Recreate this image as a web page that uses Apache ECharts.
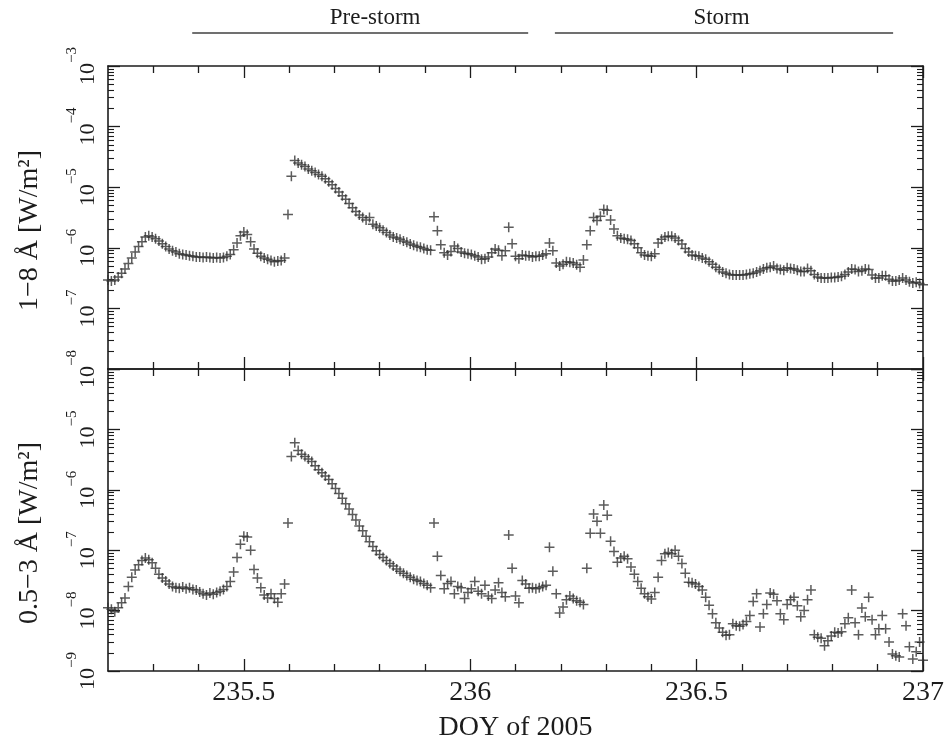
<!DOCTYPE html>
<html>
<head>
<meta charset="utf-8">
<script src="https://cdn.jsdelivr.net/npm/echarts@6.0.0/dist/echarts.min.js"></script>
<style>
html,body{margin:0;padding:0;background:#fff;}
#chart{width:948px;height:749px;}
</style>
</head>
<body>
<div id="chart"></div>
<script>
// ---------------- data ----------------
// Regular time grid (DOY of 2005)
const DOY_START = 235.2;
const DOY_STEP = 0.0075;

// GOES 1-8 Å flux [W/m^2]
const FLUX_1_8 = [
  2.95e-7, 2.82e-7, 2.95e-7, 3.31e-7, 3.80e-7, 4.47e-7, 5.50e-7, 6.76e-7, 8.51e-7, 1.05e-6,
  1.26e-6, 1.51e-6, 1.58e-6, 1.51e-6, 1.41e-6, 1.29e-6, 1.17e-6, 1.05e-6, 9.55e-7, 8.91e-7,
  8.51e-7, 7.94e-7, 7.76e-7, 7.59e-7, 7.41e-7, 7.24e-7, 7.08e-7, 7.08e-7, 6.92e-7, 7.08e-7,
  6.92e-7, 6.76e-7, 6.92e-7, 6.76e-7, 6.92e-7, 7.24e-7, 7.76e-7, 9.33e-7, 1.20e-6, 1.58e-6,
  1.82e-6, 1.66e-6, 1.26e-6, 9.55e-7, 8.13e-7, 7.24e-7, 6.76e-7, 6.46e-7, 6.17e-7, 5.89e-7,
  6.03e-7, 6.17e-7, 6.76e-7, 3.55e-6, 1.51e-5, 2.75e-5, 2.51e-5, 2.34e-5, 2.19e-5, 2.00e-5,
  1.86e-5, 1.74e-5, 1.62e-5, 1.51e-5, 1.38e-5, 1.23e-5, 1.10e-5, 9.55e-6, 8.32e-6, 7.24e-6,
  6.31e-6, 5.37e-6, 4.57e-6, 3.98e-6, 3.47e-6, 3.16e-6, 2.88e-6, 3.16e-6, 2.45e-6, 2.29e-6,
  2.14e-6, 1.95e-6, 1.78e-6, 1.62e-6, 1.51e-6, 1.45e-6, 1.38e-6, 1.29e-6, 1.23e-6, 1.15e-6,
  1.10e-6, 1.05e-6, 1.02e-6, 9.77e-7, 9.33e-7, 9.12e-7, 3.24e-6, 1.91e-6, 1.12e-6, 8.32e-7,
  7.59e-7, 8.71e-7, 1.07e-6, 9.77e-7, 8.51e-7, 8.13e-7, 7.94e-7, 7.76e-7, 7.41e-7, 7.08e-7,
  6.46e-7, 6.61e-7, 7.08e-7, 8.32e-7, 9.55e-7, 9.12e-7, 7.41e-7, 8.91e-7, 2.19e-6, 1.17e-6,
  7.24e-7, 6.61e-7, 7.59e-7, 7.41e-7, 7.41e-7, 7.08e-7, 7.24e-7, 7.24e-7, 7.59e-7, 7.94e-7,
  1.20e-6, 8.91e-7, 5.62e-7, 5.01e-7, 5.37e-7, 5.89e-7, 5.75e-7, 5.62e-7, 5.25e-7, 4.79e-7,
  6.31e-7, 1.12e-6, 1.91e-6, 3.16e-6, 2.82e-6, 3.31e-6, 4.27e-6, 4.17e-6, 2.88e-6, 2.04e-6,
  1.58e-6, 1.45e-6, 1.41e-6, 1.38e-6, 1.32e-6, 1.17e-6, 1.00e-6, 8.32e-7, 7.59e-7, 7.41e-7,
  7.24e-7, 7.94e-7, 1.20e-6, 1.38e-6, 1.51e-6, 1.55e-6, 1.55e-6, 1.45e-6, 1.32e-6, 1.15e-6,
  9.77e-7, 8.51e-7, 7.59e-7, 7.41e-7, 7.24e-7, 6.76e-7, 6.46e-7, 5.89e-7, 5.37e-7, 4.79e-7,
  4.37e-7, 3.98e-7, 3.80e-7, 3.63e-7, 3.55e-7, 3.55e-7, 3.55e-7, 3.55e-7, 3.63e-7, 3.72e-7,
  3.80e-7, 3.98e-7, 4.17e-7, 4.47e-7, 4.68e-7, 4.79e-7, 5.01e-7, 4.57e-7, 4.37e-7, 4.27e-7,
  4.68e-7, 4.57e-7, 4.47e-7, 4.27e-7, 4.07e-7, 4.07e-7, 4.57e-7, 4.17e-7, 3.63e-7, 3.31e-7,
  3.16e-7, 3.16e-7, 3.16e-7, 3.24e-7, 3.24e-7, 3.31e-7, 3.39e-7, 3.63e-7, 3.98e-7, 4.47e-7,
  4.37e-7, 4.07e-7, 4.17e-7, 4.47e-7, 4.37e-7, 3.55e-7, 3.16e-7, 3.16e-7, 3.47e-7, 3.47e-7,
  3.02e-7, 2.82e-7, 2.82e-7, 2.95e-7, 3.16e-7, 2.95e-7, 2.75e-7, 2.63e-7, 2.69e-7, 2.57e-7,
  2.45e-7
];

// GOES 0.5-3 Å flux [W/m^2]
const FLUX_05_3 = [
  1.12e-8, 1.05e-8, 9.55e-9, 1.12e-8, 1.35e-8, 1.62e-8, 2.51e-8, 3.55e-8, 4.68e-8, 5.75e-8,
  6.76e-8, 7.41e-8, 6.92e-8, 6.17e-8, 5.01e-8, 3.98e-8, 3.47e-8, 3.09e-8, 2.75e-8, 2.51e-8,
  2.40e-8, 2.34e-8, 2.45e-8, 2.29e-8, 2.40e-8, 2.24e-8, 2.19e-8, 2.04e-8, 1.91e-8, 1.82e-8,
  1.95e-8, 1.86e-8, 2.00e-8, 2.09e-8, 2.24e-8, 2.51e-8, 3.02e-8, 4.37e-8, 7.59e-8, 1.26e-7,
  1.70e-7, 1.66e-7, 1.00e-7, 4.79e-8, 3.47e-8, 2.40e-8, 1.82e-8, 1.62e-8, 1.91e-8, 1.58e-8,
  1.38e-8, 1.91e-8, 2.75e-8, 2.82e-7, 3.55e-6, 6.03e-6, 4.47e-6, 3.89e-6, 3.55e-6, 3.24e-6,
  2.95e-6, 2.51e-6, 2.14e-6, 1.91e-6, 1.70e-6, 1.48e-6, 1.26e-6, 1.05e-6, 8.71e-7, 7.24e-7,
  5.89e-7, 4.79e-7, 3.89e-7, 3.16e-7, 2.51e-7, 2.09e-7, 1.70e-7, 1.38e-7, 1.15e-7, 9.77e-8,
  8.51e-8, 7.59e-8, 6.76e-8, 6.03e-8, 5.50e-8, 4.90e-8, 4.47e-8, 4.17e-8, 3.80e-8, 3.55e-8,
  3.31e-8, 3.16e-8, 3.02e-8, 2.82e-8, 2.63e-8, 2.40e-8, 2.82e-7, 7.94e-8, 3.80e-8, 2.29e-8,
  2.82e-8, 3.02e-8, 1.91e-8, 2.51e-8, 2.40e-8, 1.58e-8, 2.00e-8, 2.29e-8, 3.02e-8, 2.09e-8,
  1.91e-8, 2.63e-8, 1.74e-8, 1.58e-8, 2.19e-8, 2.88e-8, 2.00e-8, 1.70e-8, 1.78e-7, 5.01e-8,
  1.74e-8, 1.35e-8, 3.16e-8, 2.75e-8, 2.34e-8, 2.40e-8, 2.29e-8, 2.40e-8, 2.51e-8, 2.63e-8,
  1.12e-7, 4.47e-8, 1.91e-8, 9.12e-9, 1.15e-8, 1.51e-8, 1.74e-8, 1.58e-8, 1.45e-8, 1.38e-8,
  1.26e-8, 5.01e-8, 1.91e-7, 3.98e-7, 3.02e-7, 1.91e-7, 5.62e-7, 3.80e-7, 1.41e-7, 9.55e-8,
  6.31e-8, 7.41e-8, 7.94e-8, 7.24e-8, 5.25e-8, 3.98e-8, 3.02e-8, 2.34e-8, 1.91e-8, 1.70e-8,
  1.55e-8, 2.00e-8, 3.55e-8, 6.76e-8, 8.71e-8, 9.12e-8, 8.71e-8, 1.00e-7, 7.94e-8, 6.03e-8,
  4.17e-8, 2.95e-8, 2.88e-8, 2.75e-8, 2.51e-8, 2.19e-8, 1.66e-8, 1.23e-8, 8.91e-9, 6.31e-9,
  5.13e-9, 4.37e-9, 3.89e-9, 3.98e-9, 6.03e-9, 5.62e-9, 5.50e-9, 5.89e-9, 6.61e-9, 8.32e-9,
  1.41e-8, 1.91e-8, 5.37e-9, 8.91e-9, 1.26e-8, 1.95e-8, 1.86e-8, 1.45e-8, 8.91e-9, 7.08e-9,
  1.26e-8, 1.51e-8, 1.66e-8, 1.20e-8, 7.94e-9, 1.00e-8, 1.51e-8, 2.19e-8, 3.98e-9, 3.63e-9,
  3.47e-9, 2.63e-9, 3.16e-9, 3.80e-9, 4.37e-9, 4.27e-9, 4.47e-9, 6.03e-9, 7.59e-9, 2.19e-8,
  6.31e-9, 3.98e-9, 1.10e-8, 7.94e-9, 1.66e-8, 7.08e-9, 3.98e-9, 5.01e-9, 8.32e-9, 5.01e-9,
  3.02e-9, 1.91e-9, 1.78e-9, 1.70e-9, 8.91e-9, 5.62e-9, 2.51e-9, 1.58e-9, 2.09e-9, 3.02e-9,
  1.51e-9
];

// axes
const X_MIN = 235.2, X_MAX = 237.0;
const X_LABELS = [235.5, 236, 236.5, 237];
const X_MINOR = [235.3, 235.4, 235.6, 235.7, 235.8, 235.9, 236.1, 236.2, 236.3, 236.4, 236.6, 236.7, 236.8, 236.9];
const TOP_EXP = [-8, -3];       // decades shown, top panel
const BOT_EXP = [-9, -4];       // decades shown, bottom panel
const BOT_LABEL_MAX_EXP = -5;   // highest labelled decade, bottom panel
const TOP_NAME = '1\u22128 \u00C5 [W/m\u00B2]';
const BOT_NAME = '0.5\u22123 \u00C5 [W/m\u00B2]';
const X_NAME = 'DOY of 2005';

// period annotations above the plot
const PERIOD_NAMES = ['Pre-storm', 'Storm'];
const PERIOD_START = [235.386, 236.187];
const PERIOD_END = [236.128, 236.934];
const PERIOD_LABEL_AT = [235.79, 236.555];

// ---------------- styling / building ----------------
const FONT = '"Liberation Serif", "Times New Roman", Times, serif';
const INK = '#1c1c1c';
const PLUS = 'path://M5.1,0H6.9V5.1H12V6.9H6.9V12H5.1V6.9H0V5.1H5.1Z';

function pairs(vals) {
  return vals.map((v, i) => [+(DOY_START + i * DOY_STEP).toFixed(4), v]);
}
function minorLog(lo, hi) {
  const t = [];
  for (let e = lo; e < hi; e++) for (let k = 2; k <= 9; k++) t.push(e + Math.log10(k));
  return t;
}

const GRIDS = [
  { left: 108, top: 66, width: 815, height: 303, containLabel: false, show: false },
  { left: 108, top: 369, width: 815, height: 302, containLabel: false, show: false }
];

function xDeco(grid, pos, ticks, len, showLine, extra) {
  return Object.assign({
    type: 'value', gridIndex: grid, position: pos, min: X_MIN, max: X_MAX,
    axisLine: { show: showLine, onZero: false, lineStyle: { color: INK, width: 1.6 } },
    axisTick: { show: true, inside: true, length: len, customValues: ticks, lineStyle: { color: INK, width: 1.3 } },
    axisLabel: { show: false },
    splitLine: { show: false }
  }, extra || {});
}
function yDeco(grid, pos, exp, major, showLine, extra) {
  const tick = major
    ? { show: true, inside: true, length: 12, lineStyle: { color: INK, width: 1.3 } }
    : { show: true, inside: true, length: 6, customValues: minorLog(exp[0], exp[1]), lineStyle: { color: INK, width: 1.1 } };
  return Object.assign({
    type: 'value', gridIndex: grid, position: pos, min: exp[0], max: exp[1], interval: 1,
    axisLine: { show: showLine, onZero: false, lineStyle: { color: INK, width: 1.6 } },
    axisTick: tick,
    axisLabel: { show: false },
    splitLine: { show: false }
  }, extra || {});
}
function yLabel(maxExp) {
  return {
    show: true, rotate: 90, margin: 9, color: INK, fontFamily: FONT, fontSize: 22,
    formatter: v => (v > maxExp ? '' : '{b|10}{s|' + (v < 0 ? '\u2212' : '') + Math.abs(Math.round(v)) + '}'),
    rich: {
      b: { fontSize: 22, fontFamily: FONT, color: INK, lineHeight: 34, verticalAlign: 'bottom' },
      s: { fontSize: 15, fontFamily: FONT, color: INK, verticalAlign: 'top' }
    }
  };
}
const yName = (txt) => ({
  name: txt, nameLocation: 'middle', nameGap: 64,
  nameTextStyle: { fontFamily: FONT, fontSize: 28, color: INK, padding: [0, 26, 0, 0] }
});

const xAxes = [
  // top panel (0..3); axis 0 carries data
  xDeco(0, 'bottom', X_LABELS, 12, true),
  xDeco(0, 'bottom', X_MINOR, 7, false),
  xDeco(0, 'top', X_LABELS, 12, true),
  xDeco(0, 'top', X_MINOR, 7, false),
  // bottom panel (4..7); axis 4 carries data + labels
  xDeco(1, 'bottom', X_LABELS, 12, true, {
    axisLabel: { show: true, customValues: X_LABELS, margin: 8, color: INK, fontFamily: FONT, fontSize: 28, formatter: v => String(v) },
    name: X_NAME, nameLocation: 'middle', nameGap: 43,
    nameTextStyle: { fontFamily: FONT, fontSize: 28, color: INK }
  }),
  xDeco(1, 'bottom', X_MINOR, 7, false),
  xDeco(1, 'top', X_LABELS, 12, true),
  xDeco(1, 'top', X_MINOR, 7, false)
];

const yAxes = [
  // 0,1: data (log) axes, hidden
  { type: 'log', logBase: 10, gridIndex: 0, min: Math.pow(10, TOP_EXP[0]), max: Math.pow(10, TOP_EXP[1]), show: false },
  { type: 'log', logBase: 10, gridIndex: 1, min: Math.pow(10, BOT_EXP[0]), max: Math.pow(10, BOT_EXP[1]), show: false },
  // top panel decoration (exponent space)
  yDeco(0, 'left', TOP_EXP, true, true, Object.assign({ axisLabel: yLabel(TOP_EXP[1]) }, yName(TOP_NAME))),
  yDeco(0, 'left', TOP_EXP, false, false),
  yDeco(0, 'right', TOP_EXP, true, true),
  yDeco(0, 'right', TOP_EXP, false, false),
  // bottom panel decoration
  yDeco(1, 'left', BOT_EXP, true, true, Object.assign({ axisLabel: yLabel(BOT_LABEL_MAX_EXP) }, yName(BOT_NAME))),
  yDeco(1, 'left', BOT_EXP, false, false),
  yDeco(1, 'right', BOT_EXP, true, true),
  yDeco(1, 'right', BOT_EXP, false, false)
];

const markerStyle = { color: '#333333' };

const chart = echarts.init(document.getElementById('chart'), null, { renderer: 'canvas' });
chart.setOption({
  backgroundColor: '#ffffff',
  animation: false,
  grid: GRIDS,
  xAxis: xAxes,
  yAxis: yAxes,
  series: [
    { name: '1-8 A', type: 'scatter', xAxisIndex: 0, yAxisIndex: 0, data: pairs(FLUX_1_8),
      symbol: PLUS, symbolSize: 10, itemStyle: markerStyle, silent: true },
    { name: '0.5-3 A', type: 'scatter', xAxisIndex: 4, yAxisIndex: 1, data: pairs(FLUX_05_3),
      symbol: PLUS, symbolSize: 10, itemStyle: markerStyle, silent: true }
  ]
});

// period bars above the top panel, positioned via the x axis scale
const graphics = [];
PERIOD_NAMES.forEach((nm, k) => {
  const x1 = chart.convertToPixel({ xAxisIndex: 0 }, PERIOD_START[k]);
  const x2 = chart.convertToPixel({ xAxisIndex: 0 }, PERIOD_END[k]);
  const xt = chart.convertToPixel({ xAxisIndex: 0 }, PERIOD_LABEL_AT[k]);
  graphics.push({ type: 'line', shape: { x1: x1, y1: 33, x2: x2, y2: 33 }, style: { stroke: '#707070', lineWidth: 2 }, silent: true });
  graphics.push({ type: 'text', x: xt, y: 18, silent: true,
    style: { text: nm, fontSize: 23, fontFamily: FONT, fill: INK, align: 'center', verticalAlign: 'middle', textAlign: 'center', textVerticalAlign: 'middle' } });
});
chart.setOption({ graphic: graphics });
</script>
</body>
</html>
